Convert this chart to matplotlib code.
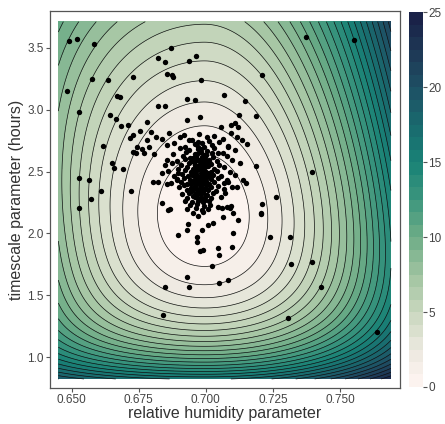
"""
Misfit surface over the relative humidity / timescale parameter plane,
with the sampled parameter sets drawn on top.
"""
import numpy as np
import matplotlib
matplotlib.use("Agg")
import matplotlib.pyplot as plt
from matplotlib.colors import LinearSegmentedColormap

plt.rcParams["font.family"] = ["Liberation Sans", "DejaVu Sans"]

# grid of the misfit surface
rh_range = (0.645, 0.769)
tau_range = (0.825, 3.71)

# misfit minimum
rh_best = 0.6995
tau_best = 2.15

# curvature along log(tau): above / below the best timescale
tau_curv = (20.0, 18.0)

# curvature along relative humidity on the dry / moist side of the minimum,
# each as (value at tau_best, linear and quadratic change of its log with log(tau))
rh_curv_dry = (2700.0, -0.301, -1.511)
rh_curv_moist = (3000.0, 0.309, -0.382)

levels = np.linspace(0, 25, 31)
cbar_ticks = [0, 5, 10, 15, 20, 25]
x_ticks = [0.650, 0.675, 0.700, 0.725, 0.750]
y_ticks = [1.0, 1.5, 2.0, 2.5, 3.0, 3.5]

# sampled parameter sets away from the main cloud
sample_rh = [
    0.6491, 0.6519, 0.6584, 0.6575, 0.6636, 0.6481, 0.6527, 0.6668, 0.6680, 0.6643,
    0.6664, 0.6685, 0.6709, 0.6618, 0.6527, 0.6564, 0.6609, 0.6571, 0.6528, 0.6649,
    0.6658, 0.6722, 0.6692, 0.6728, 0.6869, 0.6822, 0.6847, 0.6937, 0.6963, 0.6983,
    0.6854, 0.6873, 0.6879, 0.6931, 0.6959, 0.6820, 0.6848, 0.6928, 0.6978, 0.6779,
    0.6754, 0.6727, 0.6717, 0.6794, 0.6814, 0.6779, 0.6742, 0.6761, 0.6788, 0.6807,
    0.6730, 0.6741, 0.6769, 0.6804, 0.6823, 0.6835, 0.6847, 0.6854, 0.6856, 0.6869,
    0.6893, 0.6858, 0.6838, 0.7372, 0.7553, 0.7210, 0.7069, 0.7146, 0.7187, 0.7123,
    0.7094, 0.7108, 0.7119, 0.7056, 0.7133, 0.7152, 0.7083, 0.7046, 0.7186, 0.7394,
    0.7260, 0.7208, 0.7204, 0.7148, 0.7139, 0.7116, 0.7083, 0.7071, 0.7090, 0.7046,
    0.6866, 0.6897, 0.6931, 0.6932, 0.6966, 0.6984, 0.7028, 0.7009, 0.6966, 0.6978,
    0.6990, 0.7046, 0.7050, 0.7024, 0.6928, 0.6938, 0.6847, 0.6839, 0.7083, 0.7048,
    0.7205, 0.7059, 0.7078, 0.7094, 0.7102, 0.7119, 0.7065, 0.7102, 0.7098, 0.7239,
    0.7313, 0.7317, 0.7394, 0.7429, 0.7307, 0.7640,
]
sample_tau = [
    3.556, 3.574, 3.533, 3.245, 3.242, 3.151, 2.981, 3.111, 3.101, 2.956,
    2.927, 2.871, 2.875, 2.708, 2.444, 2.431, 2.344, 2.277, 2.204, 2.570,
    2.525, 2.342, 2.519, 3.261, 3.501, 3.414, 3.384, 3.394, 3.432, 3.238,
    3.289, 3.283, 3.260, 3.082, 3.077, 3.028, 3.028, 2.915, 2.937, 2.902,
    2.826, 2.794, 2.767, 2.821, 2.780, 2.754, 2.700, 2.679, 2.700, 2.641,
    2.659, 2.646, 2.651, 2.417, 2.417, 2.485, 2.552, 2.592, 2.396, 2.409,
    2.431, 2.188, 2.242, 3.583, 3.561, 3.276, 3.120, 3.071, 2.948, 2.958,
    2.875, 2.893, 2.861, 2.861, 2.754, 2.719, 2.700, 2.646, 2.544, 2.495,
    2.296, 2.237, 2.162, 2.409, 2.431, 2.376, 2.417, 2.323, 2.202, 2.215,
    2.194, 1.986, 2.027, 2.073, 1.973, 2.027, 2.081, 2.067, 1.932, 1.859,
    1.865, 1.879, 1.825, 1.736, 1.645, 1.564, 1.564, 1.342, 1.628, 1.601,
    2.156, 2.202, 2.210, 2.221, 2.162, 2.107, 2.134, 2.000, 1.892, 1.973,
    1.973, 1.752, 1.771, 1.569, 1.321, 1.205,
]

# main cloud of samples around the best fit
cloud_rh = [
    0.6862, 0.6918, 0.6973, 0.7031, 0.7094,
    0.6838, 0.6905, 0.6947, 0.7004, 0.7063, 0.7118,
    0.6882, 0.6936, 0.6985, 0.7012, 0.7049,
    0.6857, 0.6921, 0.6958, 0.6994, 0.7023, 0.7082,
    0.6903, 0.6937, 0.6972, 0.7006, 0.7031, 0.7107,
    0.6879, 0.6926, 0.6961, 0.6983, 0.7002, 0.7024, 0.7063,
    0.6914, 0.6942, 0.6963, 0.6986, 0.6997, 0.7028, 0.7079,
    0.6893, 0.6921, 0.6948, 0.6972, 0.6991, 0.7013, 0.7042, 0.7098,
    0.6872, 0.6909, 0.6937, 0.6958, 0.6977, 0.6996, 0.7021, 0.7048, 0.7126,
    0.6898, 0.6928, 0.6951, 0.6968, 0.6989, 0.7008, 0.7032, 0.7069,
    0.6858, 0.6897, 0.6921, 0.6943, 0.6962, 0.6981, 0.6998, 0.7019, 0.7043, 0.7091,
    0.6883, 0.6912, 0.6934, 0.6953, 0.6972, 0.6989, 0.7009, 0.7027, 0.7058, 0.7107,
    0.6894, 0.6917, 0.6941, 0.6962, 0.6978, 0.6996, 0.7018, 0.7047, 0.7079,
    0.6907, 0.6931, 0.6952, 0.6971, 0.6992, 0.7011, 0.7032, 0.7068,
    0.6899, 0.6918, 0.6943, 0.6961, 0.6983, 0.7002, 0.7021, 0.7044, 0.7098,
    0.6928, 0.6949, 0.6968, 0.6987, 0.7009, 0.7037, 0.7069,
    0.6912, 0.6938, 0.6962, 0.6979, 0.7001, 0.7028,
    0.6931, 0.6958, 0.6981, 0.6997, 0.7019, 0.7058,
    0.6921, 0.6948, 0.6972, 0.6989, 0.7012,
    0.6942, 0.6968, 0.6993, 0.7017,
    0.6931, 0.6962, 0.6984, 0.7008,
    0.6953, 0.6991, 0.6972,
    0.6955, 0.6975, 0.6995, 0.6945, 0.6965, 0.7005, 0.6985, 0.6950, 0.7015, 0.6978,
    0.6968, 0.6988, 0.7003, 0.6957, 0.6992, 0.6979, 0.6962, 0.7006, 0.6983, 0.6971,
    0.6952, 0.6967, 0.6981, 0.6996, 0.7010, 0.6959, 0.6974, 0.6989, 0.7001, 0.6948,
    0.6963, 0.6977, 0.6993, 0.7008, 0.6956, 0.6970, 0.6986, 0.6999, 0.6961, 0.6975,
    0.6990, 0.7004, 0.6953, 0.6968, 0.6982, 0.6997, 0.6966, 0.6980, 0.6994, 0.6972,
]
cloud_tau = [
    2.812, 2.795, 2.806, 2.788, 2.815,
    2.762, 2.778, 2.757, 2.781, 2.766, 2.779,
    2.733, 2.751, 2.728, 2.745, 2.736,
    2.716, 2.702, 2.719, 2.698, 2.713, 2.704,
    2.688, 2.671, 2.684, 2.668, 2.691, 2.677,
    2.644, 2.658, 2.641, 2.655, 2.637, 2.652, 2.646,
    2.627, 2.611, 2.624, 2.609, 2.629, 2.616, 2.623,
    2.583, 2.598, 2.586, 2.596, 2.579, 2.594, 2.585, 2.592,
    2.566, 2.552, 2.568, 2.549, 2.563, 2.547, 2.561, 2.554, 2.567,
    2.524, 2.539, 2.521, 2.536, 2.527, 2.541, 2.523, 2.533,
    2.506, 2.491, 2.509, 2.494, 2.503, 2.489, 2.508, 2.496, 2.504, 2.493,
    2.466, 2.479, 2.461, 2.474, 2.459, 2.477, 2.463, 2.476, 2.465, 2.472,
    2.437, 2.448, 2.431, 2.445, 2.434, 2.449, 2.436, 2.444, 2.433,
    2.414, 2.402, 2.417, 2.404, 2.418, 2.401, 2.412, 2.406,
    2.376, 2.389, 2.371, 2.385, 2.374, 2.388, 2.372, 2.383, 2.379,
    2.354, 2.341, 2.356, 2.343, 2.352, 2.345, 2.357,
    2.318, 2.327, 2.314, 2.326, 2.312, 2.323,
    2.287, 2.296, 2.283, 2.294, 2.286, 2.293,
    2.262, 2.253, 2.264, 2.251, 2.259,
    2.226, 2.234, 2.223, 2.231,
    2.198, 2.204, 2.193, 2.201,
    2.168, 2.174, 2.139,
    2.580, 2.520, 2.440, 2.400, 2.330, 2.570, 2.620, 2.470, 2.480, 2.390,
    2.600, 2.540, 2.460, 2.500, 2.360, 2.280, 2.420, 2.310, 2.680, 2.740,
    2.612, 2.594, 2.577, 2.603, 2.586, 2.553, 2.537, 2.518, 2.545, 2.497,
    2.482, 2.455, 2.471, 2.488, 2.428, 2.411, 2.396, 2.423, 2.367, 2.349,
    2.338, 2.362, 2.305, 2.297, 2.318, 2.271, 2.642, 2.655, 2.633, 2.702,
]

# tempo-like colour ramp, light at the minimum, dark navy at the top
ramp_colors = [
    "#fff5f2", "#ebe8de", "#c8d7be", "#a0c3a0", "#6eac87",
    "#3c967d", "#198276", "#19696e", "#1e5064", "#1e3755", "#191e46",
]


def side_curvature(s, params):
    a0, k1, k2 = params
    return a0 * np.exp(k1 * s + k2 * s**2)


def misfit(rh, tau):
    """
    Misfit surface: quadratic in log(tau / tau_best) and in relative humidity,
    with a relative humidity curvature that differs on the dry and moist side
    and weakens away from the best timescale.
    """
    s = np.log(tau / tau_best)
    d = rh - rh_best

    up, dn = tau_curv
    f_tau = np.where(s > 0, up, dn) * s**2

    a = np.where(d < 0, side_curvature(s, rh_curv_dry), side_curvature(s, rh_curv_moist))
    f_rh = a * d**2

    return np.clip(f_tau + f_rh, 0, 24.99)


def main():
    rh = np.linspace(*rh_range, 300)
    tau = np.linspace(*tau_range, 300)
    RH, TAU = np.meshgrid(rh, tau)
    Z = misfit(RH, TAU)

    cmap = LinearSegmentedColormap.from_list("tempo", ramp_colors)

    fig = plt.figure(figsize=(4.45, 4.24), dpi=100)
    ax = fig.add_axes([0.1124, 0.0849, 0.7865, 0.889])
    cax = fig.add_axes([0.919, 0.0873, 0.0315, 0.884])

    cs = ax.contourf(RH, TAU, Z, levels=levels, cmap=cmap)
    ax.contour(RH, TAU, Z, levels=levels[1:-1], colors="#111111", linewidths=0.5)

    ax.scatter(sample_rh + cloud_rh, sample_tau + cloud_tau, s=15,
               color="black", linewidths=0, zorder=3)

    ax.set_xlim(0.6419, 0.7724)
    ax.set_ylim(0.752, 3.796)
    ax.set_xticks(x_ticks)
    ax.set_xticklabels([f"{v:.3f}" for v in x_ticks])
    ax.set_yticks(y_ticks)
    ax.set_yticklabels([f"{v:.1f}" for v in y_ticks])
    ax.tick_params(direction="out", length=3, width=0.8, colors="#555555",
                   labelsize=8.5, labelcolor="#444444", pad=1.5)
    for spine in ax.spines.values():
        spine.set_color("#555555")
        spine.set_linewidth(0.9)
    ax.set_xlabel("relative humidity parameter", fontsize=11.5, color="#333333", labelpad=0)
    ax.set_ylabel("timescale parameter (hours)", fontsize=11.5, color="#333333", labelpad=2)

    cbar = fig.colorbar(cs, cax=cax)
    cbar.outline.set_visible(False)
    cbar.set_ticks(cbar_ticks)
    cbar.ax.tick_params(direction="out", length=3, width=0.8, colors="#555555",
                        labelsize=8.5, labelcolor="#444444", pad=1)

    fig.savefig("out.png", dpi=100)
    plt.close(fig)


if __name__ == "__main__":
    main()
